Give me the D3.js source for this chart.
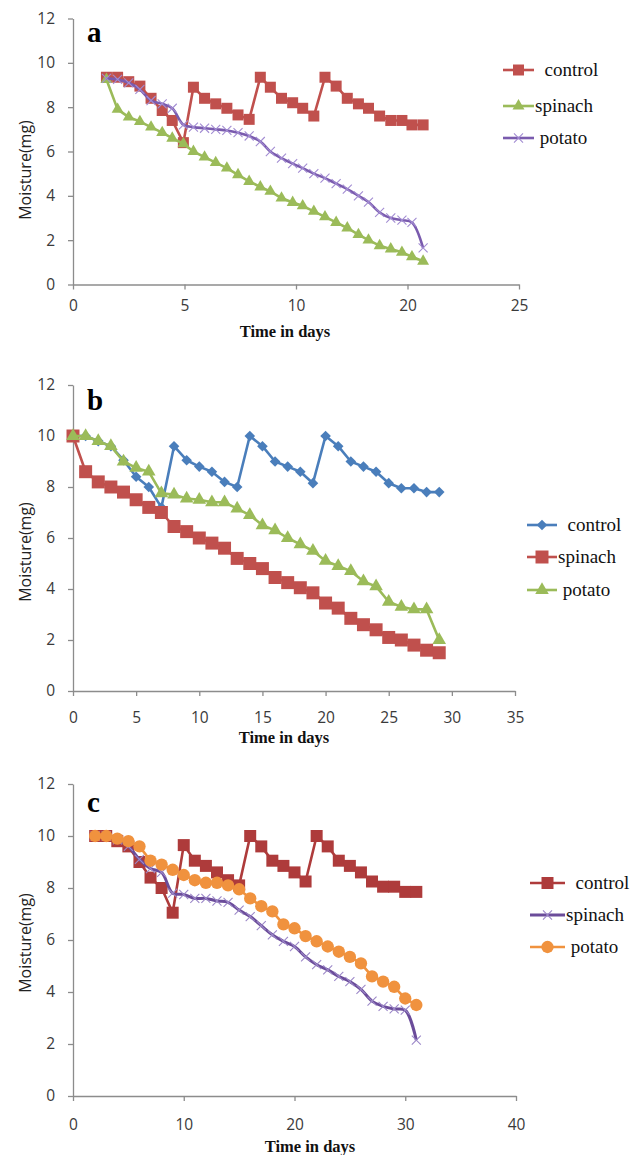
<!DOCTYPE html>
<html lang="en">
<head>
<meta charset="UTF-8">
<title>Moisture over time</title>
<script src="https://d3js.org/d3.v7.min.js"></script>
<style>
  body { margin: 0; background: #fff; }
  svg { display: block; }
  .tick text { font-family: "Open Sans", sans-serif; font-size: 15.5px; fill: #3a3a3a; }
  .domain, .tick line { stroke: #8c8c8c; stroke-width: 1.3; }
  .ytitle { font-family: "Open Sans", sans-serif; font-size: 16px; fill: #222; }
  .xtitle { font-family: "Liberation Serif", "Times New Roman", serif; font-weight: bold; font-size: 16.5px; fill: #111; }
  .letter { font-family: "Liberation Serif", "Times New Roman", serif; font-weight: bold; font-size: 29px; fill: #000; }
</style>
</head>
<body>
<div id="chart"></div>
<script>
// ---- panel a ----
const daysA = [1.5, 2.0, 2.5, 3.0, 3.5, 4.0, 4.45, 4.95, 5.4, 5.9, 6.4, 6.9, 7.4, 7.9, 8.4,
               8.85, 9.35, 9.85, 10.3, 10.8, 11.3, 11.8, 12.3, 12.8, 13.25, 13.75, 14.25, 14.75, 15.2, 15.7];
const controlA = [9.35, 9.35, 9.15, 8.95, 8.4, 7.85, 7.4, 6.4, 8.9, 8.4, 8.15, 7.95, 7.65, 7.45, 9.35,
                  8.9, 8.4, 8.2, 7.95, 7.6, 9.35, 8.95, 8.4, 8.15, 7.95, 7.6, 7.4, 7.4, 7.2, 7.2];
const spinachA = [9.25, 7.9, 7.55, 7.35, 7.1, 6.85, 6.6, 6.35, 6.0, 5.75, 5.5, 5.25, 4.95, 4.65, 4.4,
                  4.2, 3.9, 3.7, 3.55, 3.3, 3.05, 2.8, 2.55, 2.25, 2.0, 1.75, 1.6, 1.45, 1.25, 1.05];
const potatoA = [9.3, 9.25, 9.1, 8.8, 8.3, 8.15, 7.95, 7.2, 7.1, 7.05, 7.0, 6.95, 6.85, 6.7, 6.45,
                 6.0, 5.7, 5.45, 5.25, 5.0, 4.8, 4.55, 4.3, 4.0, 3.72, 3.25, 3.0, 2.9, 2.8, 1.65];
const xTicksA = [0, 5, 10, 15, 20];
const xTickLabelsA = ["0", "5", "10", "20", "25"];
const legendA = ["  control", "spinach", " potato"];

// ---- panel b ----
const daysB = [0, 1, 2, 3, 4, 5, 6, 7, 8, 9, 10, 11, 12, 13, 14,
               15, 16, 17, 18, 19, 20, 21, 22, 23, 24, 25, 26, 27, 28, 29];
const controlB = [10, 10, 9.8, 9.6, 9.05, 8.4, 8.0, 7.2, 9.6, 9.05, 8.8, 8.6, 8.2, 8.0, 10,
                  9.6, 9.0, 8.8, 8.6, 8.15, 10, 9.6, 9.0, 8.8, 8.6, 8.15, 7.95, 7.95, 7.8, 7.8];
const spinachB = [10, 8.6, 8.2, 8.0, 7.8, 7.5, 7.2, 7.0, 6.45, 6.25, 6.0, 5.8, 5.6, 5.2, 5.0,
                  4.8, 4.45, 4.25, 4.05, 3.85, 3.45, 3.25, 2.85, 2.6, 2.4, 2.1, 2.0, 1.8, 1.6, 1.5];
const potatoB = [10, 10, 9.8, 9.6, 9.0, 8.75, 8.6, 7.75, 7.7, 7.55, 7.5, 7.4, 7.4, 7.15, 6.9,
                 6.5, 6.3, 6.0, 5.75, 5.5, 5.1, 4.9, 4.7, 4.3, 4.1, 3.5, 3.3, 3.2, 3.2, 2.0];
const xTicksB = [0, 5, 10, 15, 20, 25, 30, 35];
const legendB = ["  control", "spinach", " potato"];

// ---- panel c ----
const daysC = [2, 3, 4, 5, 6, 7, 8, 9, 10, 11, 12, 13, 14, 15, 16,
               17, 18, 19, 20, 21, 22, 23, 24, 25, 26, 27, 28, 29, 30, 31];
const controlC = [10, 10, 9.8, 9.6, 9.0, 8.4, 8.0, 7.05, 9.65, 9.05, 8.85, 8.6, 8.3, 8.1, 10,
                  9.6, 9.05, 8.85, 8.6, 8.25, 10, 9.6, 9.05, 8.85, 8.6, 8.25, 8.05, 8.05, 7.85, 7.85];
const spinachC = [10.0, 10.0, 9.85, 9.6, 9.1, 8.75, 8.6, 7.8, 7.75, 7.6, 7.6, 7.5, 7.45, 7.15, 6.9,
                  6.55, 6.2, 5.95, 5.75, 5.35, 5.05, 4.85, 4.6, 4.4, 4.1, 3.65, 3.45, 3.35, 3.3, 2.15];
const potatoC = [10.0, 10.0, 9.9, 9.8, 9.6, 9.05, 8.9, 8.7, 8.5, 8.3, 8.2, 8.2, 8.1, 7.95, 7.6,
                 7.3, 7.1, 6.6, 6.45, 6.15, 5.95, 5.75, 5.55, 5.35, 5.1, 4.6, 4.4, 4.2, 3.75, 3.5];
const xTicksC = [0, 10, 20, 30, 40];
const legendC = ["  control", "spinach", " potato"];

const yTicks = [0, 2, 4, 6, 8, 10, 12];

const width = 642, height = 1155;
const axisLeftX = 73;

const svg = d3.select("#chart").append("svg")
    .attr("width", width)
    .attr("height", height);

svg.append("rect").attr("width", width).attr("height", height).attr("fill", "#fff");

// series styles
const RED = "#C0504D", GREEN = "#9BBB59", PURPLE = "#7A5BAE", BLUE = "#4A7EBB",
      DARKRED = "#AE3B3B", DARKPURPLE = "#6B4C9A", ORANGE = "#F0923E";

const panels = [
    {
        letter: "a", letterY: 42, yTop: 18.5, yBottom: 284.5,
        xDomain: [0, 20], xRight: 519, xTicks: xTicksA, xLabels: xTickLabelsA, xPad: 10,
        yTitleY: 170, xTitleX: 285, xTitleY: 337,
        legendX: 503, legendW: 31, legendY: [70, 106, 138], legend: legendA,
        series: [
            { x: daysA, y: controlA, color: RED, marker: "square", size: 11 },
            { x: daysA, y: spinachA, color: GREEN, marker: "triangle", size: 62 },
            { x: daysA, y: potatoA, color: PURPLE, marker: "x", size: 55, mcolor: "#A28CD2", smooth: true }
        ]
    },
    {
        letter: "b", letterY: 410, yTop: 385, yBottom: 691,
        xDomain: [0, 35], xRight: 515, xTicks: xTicksB, xLabels: null, xPad: 16,
        yTitleY: 552, xTitleX: 284, xTitleY: 743,
        legendX: 527, legendW: 30, legendY: [525, 557, 590], legend: legendB,
        series: [
            { x: daysB, y: controlB, color: BLUE, marker: "diamond", size: 7.5 },
            { x: daysB, y: spinachB, color: RED, marker: "square", size: 13 },
            { x: daysB, y: potatoB, color: GREEN, marker: "triangle", size: 80 }
        ]
    },
    {
        letter: "c", letterY: 812, yTop: 784, yBottom: 1096,
        xDomain: [0, 40], xRight: 516, xTicks: xTicksC, xLabels: null, xPad: 18,
        yTitleY: 943, xTitleX: 310, xTitleY: 1152,
        legendX: 530, legendW: 35, legendY: [883, 915, 947], legend: legendC,
        series: [
            { x: daysC, y: controlC, color: DARKRED, marker: "square", size: 12 },
            { x: daysC, y: spinachC, color: DARKPURPLE, marker: "x", size: 55, mcolor: "#9C88C8", smooth: true, width: 3 },
            { x: daysC, y: potatoC, color: ORANGE, marker: "circle", size: 120 }
        ]
    }
];

function markerPath(s) {
    if (s.marker === "square") return d3.symbol(d3.symbolSquare, s.size * s.size)();
    if (s.marker === "diamond") return d3.symbol(d3.symbolSquare, s.size * s.size)();
    if (s.marker === "triangle") return d3.symbol(d3.symbolTriangle, s.size)();
    if (s.marker === "circle") return d3.symbol(d3.symbolCircle, s.size)();
    return d3.symbol(d3.symbolX, s.size)();
}

function drawMarkers(sel, s) {
    const path = markerPath(s);
    sel.attr("d", path)
        .attr("transform", d => `translate(${d[0]},${d[1]})` + (s.marker === "diamond" ? " rotate(45)" : ""));
    if (s.marker === "x") {
        sel.attr("fill", "none").attr("stroke", s.mcolor).attr("stroke-width", 1.1);
    } else {
        sel.attr("fill", s.color).attr("stroke", "none");
    }
}

panels.forEach(p => {
    const x = d3.scaleLinear().domain(p.xDomain).range([axisLeftX, p.xRight]);
    const y = d3.scaleLinear().domain([0, 12]).range([p.yBottom, p.yTop]);
    const g = svg.append("g");

    const xAxis = d3.axisBottom(x)
        .tickValues(p.xTicks)
        .tickSize(5)
        .tickSizeOuter(0)
        .tickPadding(p.xPad);
    if (p.xLabels) xAxis.tickFormat((d, i) => p.xLabels[i]);
    g.append("g")
        .attr("transform", `translate(0,${p.yBottom})`)
        .call(xAxis);

    g.append("g")
        .attr("transform", `translate(${axisLeftX},0)`)
        .call(d3.axisLeft(y).tickValues(yTicks).tickSize(5).tickSizeOuter(0).tickPadding(13));

    // titles
    g.append("text")
        .attr("class", "ytitle")
        .attr("text-anchor", "middle")
        .attr("transform", `translate(31,${p.yTitleY}) rotate(-90)`)
        .text("Moisture(mg)");

    g.append("text")
        .attr("class", "xtitle")
        .attr("text-anchor", "middle")
        .attr("x", p.xTitleX)
        .attr("y", p.xTitleY)
        .text("Time in days");

    g.append("text")
        .attr("class", "letter")
        .attr("x", 87)
        .attr("y", p.letterY)
        .text(p.letter);

    // series
    p.series.forEach(s => {
        const pts = s.x.map((d, i) => [x(d), y(s.y[i])]);
        const line = d3.line().curve(s.smooth ? d3.curveCatmullRom : d3.curveLinear);
        g.append("path")
            .attr("d", line(pts))
            .attr("fill", "none")
            .attr("stroke", s.color)
            .attr("stroke-width", s.width || 2.6)
            .attr("stroke-linejoin", "round");
        g.append("g").selectAll("path")
            .data(pts)
            .join("path")
            .call(sel => drawMarkers(sel, s));
    });

    // legend
    const lg = g.append("g");
    p.series.forEach((s, i) => {
        const ly = p.legendY[i];
        lg.append("line")
            .attr("x1", p.legendX).attr("x2", p.legendX + p.legendW)
            .attr("y1", ly).attr("y2", ly)
            .attr("stroke", s.color)
            .attr("stroke-width", s.width || 2.6);
        lg.append("path")
            .datum([p.legendX + p.legendW / 2, ly])
            .call(sel => drawMarkers(sel, s));
        lg.append("text")
            .attr("x", p.legendX + p.legendW + 1)
            .attr("y", ly + 6)
            .attr("font-family", "'Liberation Serif', 'Times New Roman', serif")
            .attr("font-size", 19)
            .attr("fill", "#111")
            .attr("xml:space", "preserve")
            .style("white-space", "pre")
            .text(p.legend[i]);
    });
});
</script>
</body>
</html>
